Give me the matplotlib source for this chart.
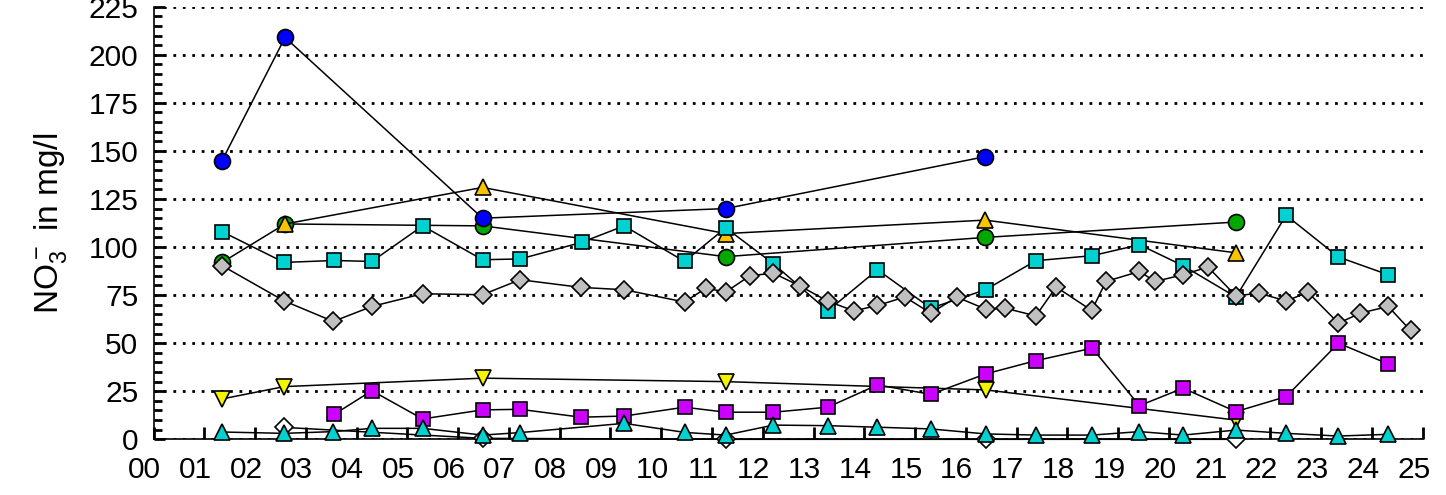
import matplotlib
matplotlib.use('Agg')
import matplotlib.pyplot as plt
import matplotlib.transforms as mtransforms
from matplotlib.ticker import MultipleLocator

plt.rcParams['font.family'] = ['Liberation Sans', 'DejaVu Sans']
plt.rcParams['mathtext.fontset'] = 'custom'
plt.rcParams['mathtext.rm'] = 'Liberation Sans'
plt.rcParams['mathtext.default'] = 'regular'

# sampling positions (years since 2000) and nitrate values in mg/l
blue_x = [1.35, 2.59, 6.48, 11.27, 16.38]
blue_y = [145, 209, 115, 120, 147]

green_x = [1.35, 2.59, 6.48, 11.27, 16.38, 21.32]
green_y = [92, 112, 111, 95, 105, 113]

gold_x = [2.59, 6.48, 11.27, 16.38, 21.32]
gold_y = [112, 131, 107, 114, 97]

cyansq_x = [1.35, 2.57, 3.56, 4.30, 5.30, 6.48, 7.22, 8.43, 9.27, 10.46, 11.27, 12.21,
            13.28, 14.26, 15.31, 16.39, 17.38, 18.49, 19.42, 20.28, 21.32, 22.31, 23.34, 24.32]
cyansq_y = [108, 92, 93, 92.5, 111, 93.4, 93.8, 102.4, 111, 92.5, 110, 91.3,
            66.8, 88.2, 68.2, 77.8, 92.9, 95.5, 101.2, 90.3, 74, 116.5, 94.8, 85.6]

gray_x = [1.35, 2.57, 3.54, 4.30, 5.30, 6.48, 7.22, 8.42, 9.27, 10.46, 10.88, 11.27, 11.75,
          12.21, 12.73, 13.29, 13.80, 14.26, 14.80, 15.31, 15.82, 16.39, 16.77, 17.38, 17.78,
          18.48, 18.76, 19.42, 19.73, 20.28, 20.77, 21.32, 21.77, 22.31, 22.74, 23.34, 23.77,
          24.32, 24.76]
gray_y = [90.3, 72, 61.3, 69.1, 75.7, 75.2, 83, 79, 77.8, 71.4, 78.6, 76.6, 85.1,
          86.4, 79.8, 71.7, 66.8, 69.6, 74, 65.6, 74, 67.7, 68.2, 64.2, 79.2,
          67, 82.1, 87.3, 82.1, 85.6, 89.6, 74.6, 76, 72, 76.4, 60.4, 65.6,
          69.1, 56.6]

yellow_x = [1.35, 2.57, 6.48, 11.27, 16.39, 21.32]
yellow_y = [21, 27.4, 31.8, 30, 25.7, 10]

magenta_x = [3.56, 4.30, 5.30, 6.48, 7.22, 8.42, 9.27, 10.46, 11.27, 12.21, 13.28,
             14.26, 15.31, 16.39, 17.38, 18.49, 19.42, 20.28, 21.32, 22.31, 23.34, 24.32]
magenta_y = [13, 25.3, 10.6, 15.3, 15.6, 11.5, 12.1, 16.7, 14.1, 14.1, 16.7,
             28.3, 23.4, 34, 40.9, 47.4, 17.5, 26.6, 14.4, 22.2, 50, 39.2]

white_x = [2.57, 6.48, 11.27, 16.39, 21.32]
white_y = [6.2, 0.5, 0, 0, 0]

cyantri_x = [1.35, 2.57, 3.54, 4.30, 5.30, 6.48, 7.22, 9.27, 10.46, 11.27, 12.21, 13.28,
             14.26, 15.31, 16.39, 17.38, 18.49, 19.42, 20.28, 21.32, 22.31, 23.34, 24.32]
cyantri_y = [3.8, 3.1, 4.0, 5.7, 5.7, 2.2, 3.5, 8.3, 3.6, 2.2, 7.4, 7.1,
             6.3, 5.4, 2.8, 2.2, 2.2, 4.0, 2.2, 4.8, 3.1, 1.7, 2.6]

year_labels = ['%02d' % i for i in range(26)]

fig = plt.figure(figsize=(14.46, 4.95), dpi=100)
ax = fig.add_axes([0.1062, 0.1125, 0.8777, 0.874])

series = [
    (green_x, green_y, 'o', '#00a800', 11.5),
    (gold_x, gold_y, '^', '#f8c400', 11),
    (blue_x, blue_y, 'o', '#0000ff', 11.5),
    (cyansq_x, cyansq_y, 's', '#00d2d2', 10.5),
    (gray_x, gray_y, 'D', '#c0c0c0', 9.5),
    (yellow_x, yellow_y, 'v', '#f4f400', 11),
    (magenta_x, magenta_y, 's', '#cc00ff', 10.5),
    (white_x, white_y, 'D', 'white', 9.5),
    (cyantri_x, cyantri_y, '^', '#00d2d2', 11),
]
for i, (x, y, m, c, ms) in enumerate(series):
    ax.plot(x, y, '-', color='black', lw=1.1, marker=m, ms=ms, mfc=c, mec='black',
            mew=1.2, clip_on=False, zorder=3 + i)

ax.set_xlim(0, 25)
ax.set_ylim(0, 225)
ax.set_xticks(range(26))
ax.set_xticklabels(year_labels)
ax.yaxis.set_major_locator(MultipleLocator(25))
ax.yaxis.set_minor_locator(MultipleLocator(5))

ax.yaxis.grid(True, which='major', color='black', linestyle=(0, (1, 2.4)), linewidth=2.0)
ax.set_axisbelow(True)

for s in ['top', 'right']:
    ax.spines[s].set_visible(False)
for s in ['left', 'bottom']:
    ax.spines[s].set_linewidth(1.2)

ax.tick_params(axis='y', which='major', direction='in', length=8, width=2, pad=11, labelsize=21.5)
ax.tick_params(axis='y', which='minor', direction='in', length=5.5, width=2)
ax.tick_params(axis='x', which='major', direction='in', length=9, width=2, pad=12, labelsize=21.5)

shift = mtransforms.ScaledTranslation(-0.09, 0, fig.dpi_scale_trans)
for lbl in ax.get_xticklabels():
    lbl.set_transform(lbl.get_transform() + shift)

ax.set_ylabel(r'NO$_3^-$ in mg/l', fontsize=24, labelpad=14)

fig.savefig('out.png', dpi=100)
